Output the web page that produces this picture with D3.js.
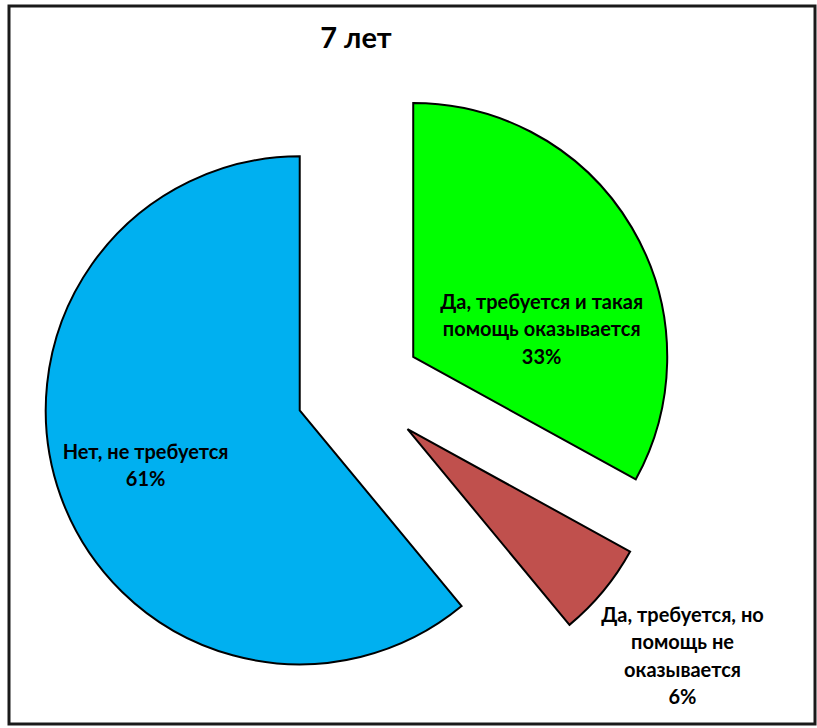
<!DOCTYPE html>
<html>
<head>
<meta charset="utf-8">
<script src="https://cdn.jsdelivr.net/npm/d3@7"></script>
<style>
  html, body { margin: 0; padding: 0; background: #ffffff; }
  svg { display: block; }
  text { font-family: Lato, "Open Sans", sans-serif; font-weight: bold; fill: #000; }
</style>
</head>
<body>
<svg id="chart" width="817" height="728"></svg>
<script>
// Survey answers for the 7-year-old group
const title = "7 лет";
const categories = [
  "Да, требуется и такая помощь оказывается",
  "Да, требуется, но помощь не оказывается",
  "Нет, не требуется"
];
const values = [33, 6, 61];
const labelLines = [
  ["Да, требуется и такая", "помощь оказывается"],
  ["Да, требуется, но", "помощь не", "оказывается"],
  ["Нет, не требуется"]
];
const colors = ["#00FF00", "#C0504D", "#00B0F0"];

// Layout
const W = 817, H = 728;
const cx = 359, cy = 389;      // pie centre before slices are pulled out
const radius = 254;
const explode = 63;            // every slice is pulled out along its bisector
const lineHeight = 27.5;
// label anchor per slice: angle (deg, clockwise from 12 o'clock; null = bisector)
// and distance as a fraction of the radius, measured from the slice apex
const labelPlace = [
  { angle: 78, r: 0.517 },
  { angle: null, r: 1.405 },
  { angle: null, r: 0.645 }
];

const svg = d3.select("#chart");

// outer frame
svg.append("rect")
  .attr("x", 9).attr("y", 6)
  .attr("width", 806).attr("height", 718)
  .attr("fill", "#fff")
  .attr("stroke", "#1a1a1a")
  .attr("stroke-width", 3);

svg.append("text")
  .attr("x", 356).attr("y", 48)
  .attr("text-anchor", "middle")
  .style("font-size", "29px")
  .text(title);

const pie = d3.pie().sort(null).value(d => d)
  .startAngle(0).endAngle(2 * Math.PI);
const arcs = pie(values);
const arc = d3.arc().innerRadius(0).outerRadius(radius);

const g = svg.append("g").attr("transform", `translate(${cx},${cy})`);

const slice = g.selectAll("g.slice")
  .data(arcs)
  .join("g")
  .attr("class", "slice")
  .attr("transform", d => {
    const mid = (d.startAngle + d.endAngle) / 2;
    return `translate(${explode * Math.sin(mid)},${-explode * Math.cos(mid)})`;
  });

slice.append("path")
  .attr("d", arc)
  .attr("fill", (d, i) => colors[i])
  .attr("stroke", "#000")
  .attr("stroke-width", 2)
  .attr("stroke-linejoin", "miter");

slice.each(function (d, i) {
  const p = labelPlace[i];
  const a = p.angle === null ? (d.startAngle + d.endAngle) / 2 : p.angle * Math.PI / 180;
  const lx = radius * p.r * Math.sin(a);
  const ly = -radius * p.r * Math.cos(a);
  const lines = labelLines[i].concat([values[i] + "%"]);
  const n = lines.length;
  const t = d3.select(this).append("text")
    .attr("text-anchor", "middle")
    .style("font-size", "20px");
  lines.forEach((s, k) => {
    t.append("tspan")
      .attr("x", lx)
      .attr("y", ly + (k - (n - 1) / 2) * lineHeight + 6.5)
      .text(s);
  });
});
</script>
</body>
</html>
